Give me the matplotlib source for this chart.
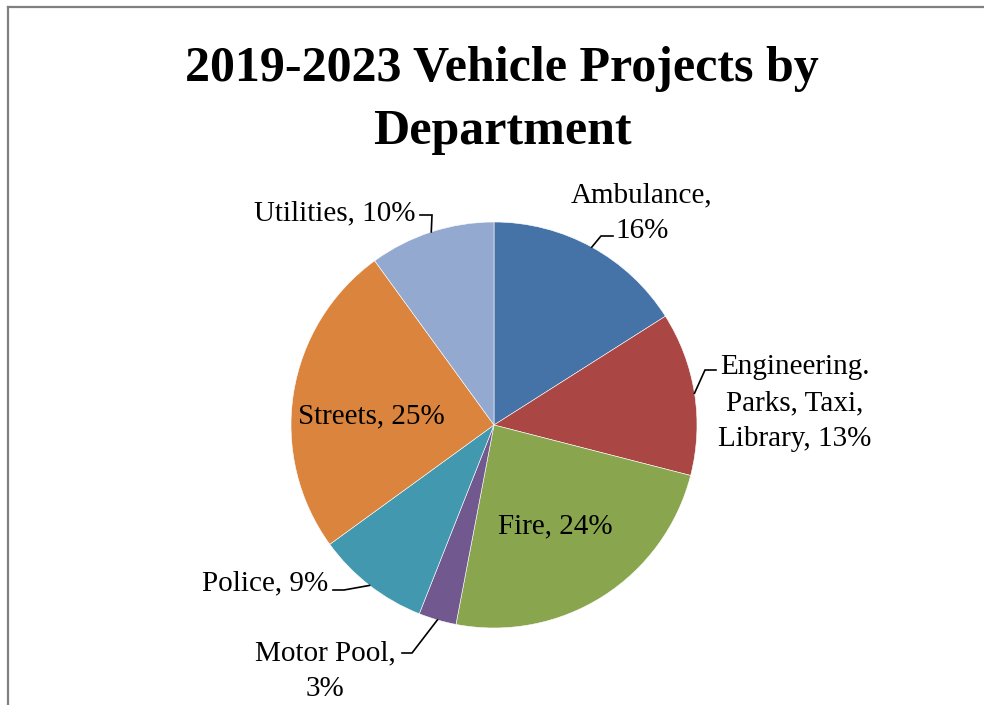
import numpy as np
import matplotlib.pyplot as plt

# Share of vehicle projects per department, 2019-2023 (percent)
departments = ['Ambulance', 'Engineering.\nParks, Taxi,\nLibrary', 'Fire', 'Motor Pool',
               'Police', 'Streets', 'Utilities']
shares = [16, 13, 24, 3, 9, 25, 10]
colors = ['#4572A7', '#AA4643', '#89A54E', '#71588F', '#4198AF', '#DB843D', '#93A9CF']

label_texts = ['Ambulance,\n16%', 'Engineering.\nParks, Taxi,\nLibrary, 13%', 'Fire, 24%',
               'Motor Pool,\n3%', 'Police, 9%', 'Streets, 25%', 'Utilities, 10%']

title_lines = ['2019-2023 Vehicle Projects by', 'Department']

W, H = 984, 705
plt.rcParams['font.family'] = ['Liberation Serif', 'DejaVu Serif']

fig = plt.figure(figsize=(W / 100, H / 100), dpi=100)
ax = fig.add_axes([0, 0, 1, 1])


def px(x, y):
    # pixel position measured from the top-left corner -> axes data
    return x, H - y


cx, cy = px(494, 425)
R = 203
wedges, _ = ax.pie(shares, colors=colors, startangle=90, counterclock=False,
                   center=(cx, cy), radius=R, frame=True,
                   wedgeprops=dict(edgecolor='white', linewidth=0.4))
ax.set_xlim(0, W)
ax.set_ylim(0, H)
ax.set_aspect('equal')
ax.axis('off')

# label layout: text position, alignment, leader end and elbow (None = inside)
layout = [
    dict(xy=(642, 213), ha='center', end=(613, 236), elbow=(601, 236)),
    dict(xy=(795, 403), ha='center', end=(716, 370), elbow=(705, 370)),
    dict(xy=(555, 526), ha='center', end=None, elbow=None),
    dict(xy=(325, 671), ha='center', end=(402, 653), elbow=(412, 653)),
    dict(xy=(328, 583), ha='right', end=(333, 590), elbow=(344, 590)),
    dict(xy=(371, 416), ha='center', end=None, elbow=None),
    dict(xy=(415, 213), ha='right', end=(420, 215), elbow=(432, 215)),
]

for w, txt, lay in zip(wedges, label_texts, layout):
    tx, ty = px(*lay['xy'])
    ax.text(tx, ty, txt, ha=lay['ha'], va='center', fontsize=21,
            linespacing=1.48, color='black')
    if lay['end'] is not None:
        mid = np.deg2rad((w.theta1 + w.theta2) / 2)
        ex, ey = cx + R * np.cos(mid), cy + R * np.sin(mid)
        bx, by = px(*lay['elbow'])
        lx, ly = px(*lay['end'])
        ax.plot([ex, bx, lx], [ey, by, ly], color='black', lw=1.2,
                solid_joinstyle='miter')

# two-line bold title
for line, base in zip(title_lines, [81, 144]):
    tx, ty = px(502, base)
    ax.text(tx, ty, line, ha='center', va='baseline', fontsize=36,
            fontweight='bold')

# chart frame lines along the top and left
ax.plot([8, W], [H - 7, H - 7], color='#808080', lw=1.6, clip_on=False)
ax.plot([8, 8], [0, H - 7], color='#808080', lw=1.6, clip_on=False)

fig.savefig('out.png', dpi=100, facecolor='white')
